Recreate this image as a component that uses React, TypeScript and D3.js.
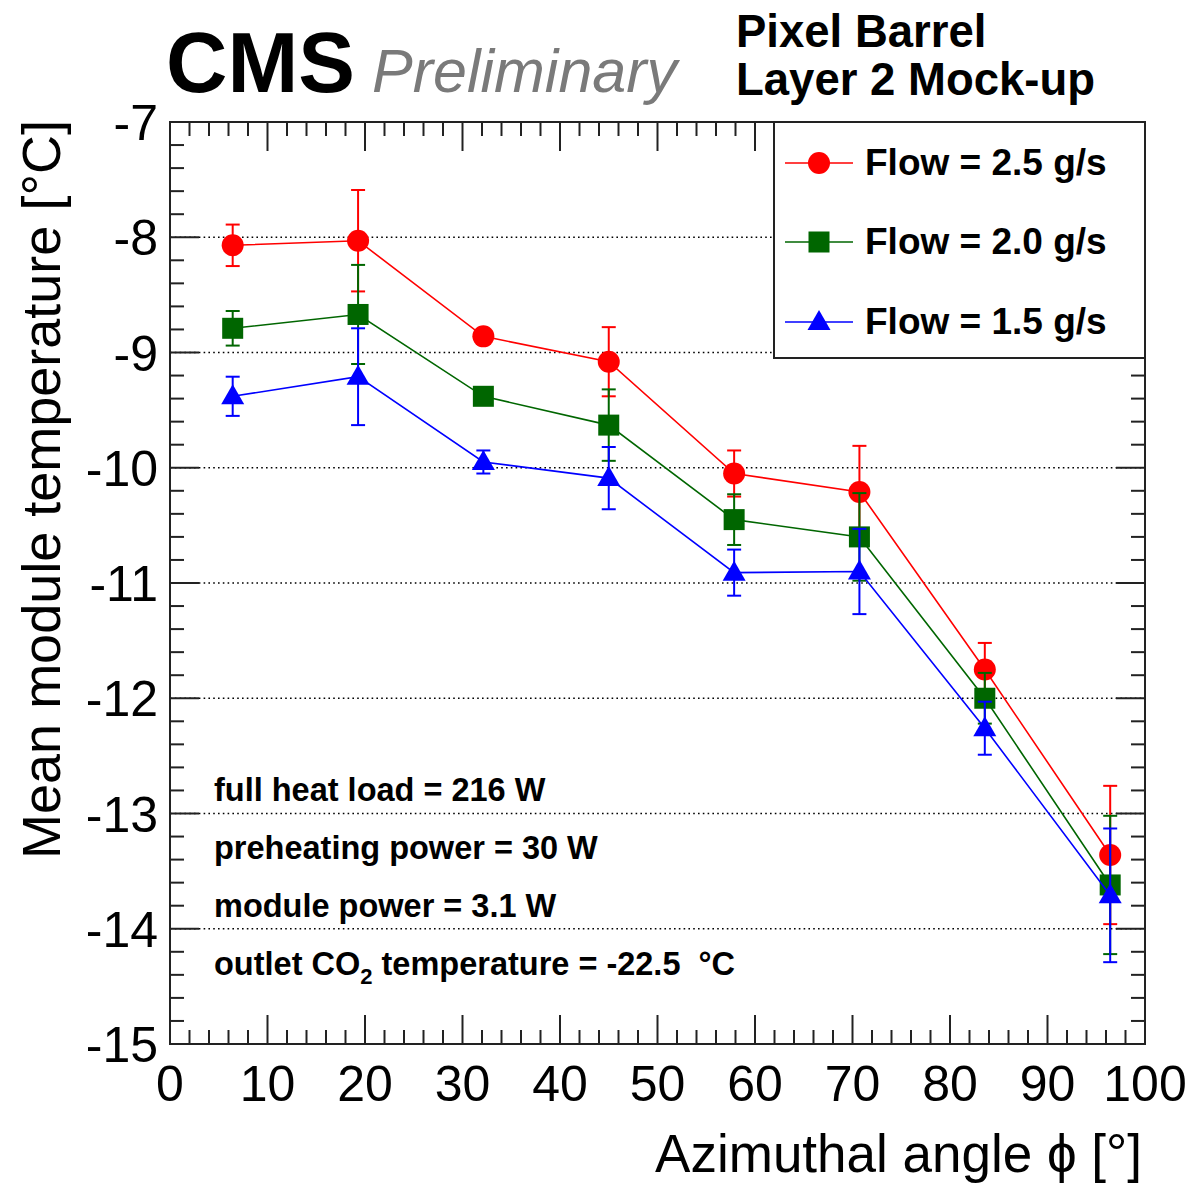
import React from 'react';
import * as d3 from 'd3';

// ---- Data ----
const angles = [6.43, 19.29, 32.14, 45.0, 57.86, 70.71, 83.57, 96.43];
const flow25 = [-8.07, -8.03, -8.86, -9.08, -10.05, -10.21, -11.75, -13.36];
const flow25Err = [0.18, 0.44, 0.05, 0.3, 0.2, 0.4, 0.23, 0.6];
const flow20 = [-8.79, -8.67, -9.38, -9.63, -10.45, -10.6, -12.0, -13.62];
const flow20Err = [0.15, 0.43, 0.05, 0.31, 0.22, 0.38, 0.22, 0.6];
const flow15 = [-9.38, -9.21, -9.95, -10.09, -10.91, -10.9, -12.26, -13.71];
const flow15Err = [0.17, 0.42, 0.1, 0.27, 0.2, 0.37, 0.23, 0.58];
const seriesLabels = ['Flow = 2.5 g/s', 'Flow = 2.0 g/s', 'Flow = 1.5 g/s'];
const seriesColors = ['#ff0000', '#006600', '#0000ff'];
const seriesMarkers = ['circle', 'square', 'triangle'];
const xTickLabels = [0, 10, 20, 30, 40, 50, 60, 70, 80, 90, 100];
const yTickLabels = [-7, -8, -9, -10, -11, -12, -13, -14, -15];
const gridValues = [-8, -9, -10, -11, -12, -13, -14];
const infoLines = ['full heat load = 216 W', 'preheating power = 30 W', 'module power = 3.1 W'];

const W = 1192;
const H = 1185;
const L = 170, R = 1145, T = 122, B = 1044;
const FONT = "'Liberation Sans', Arial, Helvetica, sans-serif";

function Marker({ type, x, y, color }: { type: string; x: number; y: number; color: string }) {
  if (type === 'circle') return <circle cx={x} cy={y} r={11} fill={color} />;
  if (type === 'square') return <rect x={x - 10.5} y={y - 10.5} width={21} height={21} fill={color} />;
  return <path d={`M${x},${y - 12}L${x + 11.5},${y + 8}L${x - 11.5},${y + 8}Z`} fill={color} />;
}

export default function App() {
  const x = d3.scaleLinear().domain([0, 100]).range([L, R]);
  const y = d3.scaleLinear().domain([-15, -7]).range([B, T]);

  const series = [
    { v: flow25, e: flow25Err },
    { v: flow20, e: flow20Err },
    { v: flow15, e: flow15Err },
  ];

  const line = d3
    .line<number>()
    .x((_, i) => x(angles[i]))
    .y((d) => y(d));

  const xMinor = d3.range(0, 100.001, 2);
  const yMinor = d3.range(-15, -6.999, 0.2);

  return (
    <svg
      width={W}
      height={H}
      style={{ position: 'absolute', left: 0, top: 0, background: '#fff' }}
      fontFamily={FONT}
    >
      <rect x={0} y={0} width={W} height={H} fill="#fff" />

      {/* Header */}
      <text x={166} y={92} fontSize={85} fontWeight="bold" fill="#000">CMS</text>
      <text x={372} y={92} fontSize={61} fontStyle="italic" fill="#7a7a7a">Preliminary</text>
      <text x={736} y={47} fontSize={45.5} fontWeight="bold" fill="#000">Pixel Barrel</text>
      <text x={736} y={95} fontSize={45.5} fontWeight="bold" fill="#000">Layer 2 Mock-up</text>

      {/* Grid lines */}
      {gridValues.map((g) => (
        <line
          key={'g' + g}
          x1={L}
          x2={R}
          y1={y(g)}
          y2={y(g)}
          stroke="#000"
          strokeWidth={1.6}
          strokeDasharray="1.6,3.2"
        />
      ))}

      {/* Ticks */}
      {xMinor.map((t) => {
        const major = Math.abs(t % 10) < 1e-6;
        const len = major ? 29 : 14;
        return (
          <g key={'xt' + t}>
            <line x1={x(t)} x2={x(t)} y1={B} y2={B - len} stroke="#222" strokeWidth={2} />
            <line x1={x(t)} x2={x(t)} y1={T} y2={T + len} stroke="#222" strokeWidth={2} />
          </g>
        );
      })}
      {yMinor.map((t, i) => {
        const major = i % 5 === 0;
        const len = major ? 29 : 14;
        return (
          <g key={'yt' + i}>
            <line x1={L} x2={L + len} y1={y(t)} y2={y(t)} stroke="#222" strokeWidth={2} />
            <line x1={R} x2={R - len} y1={y(t)} y2={y(t)} stroke="#222" strokeWidth={2} />
          </g>
        );
      })}

      {/* Tick labels */}
      {xTickLabels.map((t) => (
        <text key={'xl' + t} x={x(t)} y={1101} fontSize={50} textAnchor="middle" fill="#000">
          {t}
        </text>
      ))}
      {yTickLabels.map((t) => (
        <text key={'yl' + t} x={158} y={y(t) + 18} fontSize={50} textAnchor="end" fill="#000">
          {t}
        </text>
      ))}

      {/* Axis titles */}
      <text x={1142} y={1172} fontSize={53} textAnchor="end" fill="#000">
        Azimuthal angle ϕ [°]
      </text>
      <text
        transform={`translate(60,${T - 2}) rotate(-90)`}
        fontSize={54}
        textAnchor="end"
        fill="#000"
      >
        Mean module temperature [°C]
      </text>

      {/* Series */}
      {series.map((s, si) => (
        <g key={'s' + si}>
          <path d={line(s.v) || ''} fill="none" stroke={seriesColors[si]} strokeWidth={1.6} />
          {s.v.map((v, i) => (
            <g key={i}>
              <line
                x1={x(angles[i])}
                x2={x(angles[i])}
                y1={y(v + s.e[i])}
                y2={y(v - s.e[i])}
                stroke={seriesColors[si]}
                strokeWidth={2}
              />
              <line
                x1={x(angles[i]) - 7}
                x2={x(angles[i]) + 7}
                y1={y(v + s.e[i])}
                y2={y(v + s.e[i])}
                stroke={seriesColors[si]}
                strokeWidth={2}
              />
              <line
                x1={x(angles[i]) - 7}
                x2={x(angles[i]) + 7}
                y1={y(v - s.e[i])}
                y2={y(v - s.e[i])}
                stroke={seriesColors[si]}
                strokeWidth={2}
              />
              <Marker type={seriesMarkers[si]} x={x(angles[i])} y={y(v)} color={seriesColors[si]} />
            </g>
          ))}
        </g>
      ))}

      {/* Legend */}
      <rect x={774} y={T} width={R - 774} height={358 - T} fill="#fff" stroke="#222" strokeWidth={2} />
      {seriesLabels.map((lab, i) => {
        const ly = [163, 242, 322][i];
        return (
          <g key={'lg' + i}>
            <line x1={785} x2={853} y1={ly} y2={ly} stroke={seriesColors[i]} strokeWidth={1.6} />
            <Marker type={seriesMarkers[i]} x={819} y={ly} color={seriesColors[i]} />
            <text x={865} y={ly + 12} fontSize={37} fontWeight="bold" fill="#000">
              {lab}
            </text>
          </g>
        );
      })}

      {/* Info text */}
      {infoLines.map((t, i) => (
        <text key={'in' + i} x={214} y={801 + i * 58} fontSize={32.5} fontWeight="bold" fill="#000">
          {t}
        </text>
      ))}
      <text x={214} y={975} fontSize={32.5} fontWeight="bold" fill="#000" style={{ whiteSpace: 'pre' }}>
        outlet CO
        <tspan fontSize={22} dy={9}>2</tspan>
        <tspan dy={-9}>{' temperature = -22.5 \u00a0°C'}</tspan>
      </text>

      {/* Frame */}
      <rect x={L} y={T} width={R - L} height={B - T} fill="none" stroke="#222" strokeWidth={2} />
    </svg>
  );
}
